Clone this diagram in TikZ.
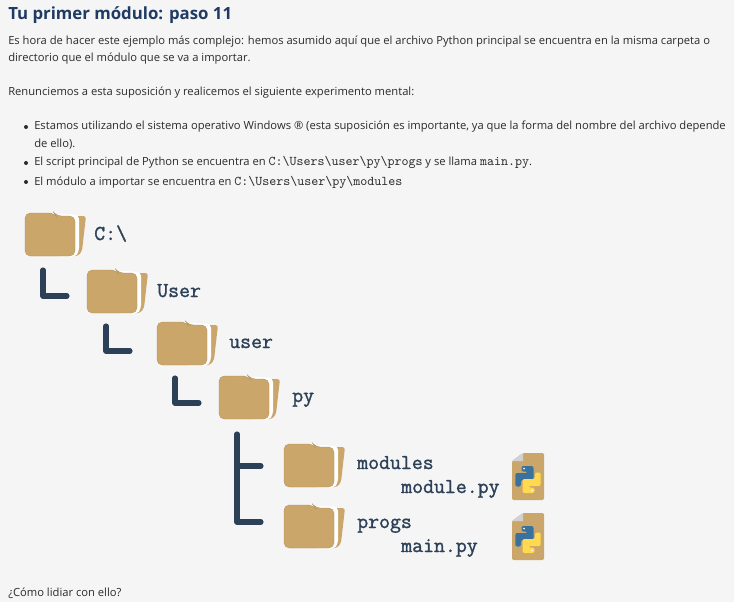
\documentclass[tikz,border=0pt]{standalone}
\usepackage{fontspec}
\setmainfont{Open Sans}
\newfontfamily\pathfont[FakeBold=1.4]{Latin Modern Mono}
\definecolor{pagebg}{HTML}{F5F5F5}
\definecolor{titleblue}{HTML}{1F3B63}
\definecolor{bodytext}{HTML}{2B2B2B}
\definecolor{slate}{HTML}{2C4058}
\definecolor{foldertan}{HTML}{CBA66A}
\definecolor{pyblue}{HTML}{3A729F}
\definecolor{pyyellow}{HTML}{FFD94F}
\newcommand{\inlinecode}[1]{{\ttfamily\fontsize{10}{10}\selectfont #1}}
\tikzset{
    titletext/.style={anchor=base west,inner sep=0pt,font=\fontsize{12.6}{16}\selectfont\bfseries,text=titleblue},
    bodyline/.style={anchor=base west,inner sep=0pt,font=\fontsize{8.4}{10}\selectfont,text=bodytext},
    bulletdot/.style={circle,fill=bodytext,inner sep=0pt,minimum size=3pt},
    pathtext/.style={anchor=base west,inner sep=0pt,font=\fontsize{15.9}{16}\selectfont\pathfont,text=slate},
    treeline/.style={draw=slate,line width=3.8pt,line cap=round,line join=round},
    pics/foldericon/.style={code={
        \fill[foldertan,rounded corners=2pt] (30,3) -- (61,3) -- (57,38) -- (53,43) -- (30,43) -- cycle;
        \fill[white,rounded corners=3pt] (30,0.5) -- (54,2) -- (54,39) -- (50,44) -- (30,44) -- cycle;
        \fill[foldertan,draw=foldertan!88!black,line width=0.3pt,rounded corners=4pt] (0,43) -- (0,0) -- (29,0)
            -- (31,3) -- (50,3) -- (50,43) -- cycle;
    }},
    pics/pyfile/.style={code={
        \fill[foldertan,rounded corners=1pt] (0,8) -- (11,0) -- (32,0) -- (32,47) -- (0,47) -- cycle;
        \fill[black!18] (0,8) -- (11,0) -- (11,8) -- cycle;
        \fill[pyblue,rounded corners=1.5pt] (9.5,13) -- (21.5,13) -- (21.5,27) -- (9,27)
            -- (9,33.5) -- (3.3,33.5) -- (3.3,20) -- (15.5,20) -- (15.5,18.5) -- (9.5,18.5) -- cycle;
        \fill[pyyellow,rounded corners=1.5pt] (22.5,40) -- (10.5,40) -- (10.5,26) -- (23,26)
            -- (23,19.5) -- (28.7,19.5) -- (28.7,33) -- (16.5,33) -- (16.5,34.5) -- (22.5,34.5) -- cycle;
        \fill[white] (12,15.6) circle (0.9);
        \fill[white] (20,37.4) circle (0.9);
    }}
}
\begin{document}
\begin{tikzpicture}[x=0.75pt,y=-0.75pt]
                \fill[pagebg] (0,0) rectangle (734,602);
                \useasboundingbox (0,0) rectangle (734,602);

                \node[titletext] (title) at (8,20) {Tu primer módulo: paso 11};
                \node[bodyline] (introa) at (8,45) {Es hora de hacer este ejemplo más complejo: hemos asumido aquí que el archivo Python principal se encuentra en la misma carpeta o};
                \node[bodyline] (introb) at (8,62) {directorio que el módulo que se va a importar.};
                \node[bodyline] (renounce) at (8,96) {Renunciemos a esta suposición y realicemos el siguiente experimento mental:};

                \node[bulletdot] (dota) at (26,127) {};
                \node[bodyline] (itema) at (34,130) {Estamos utilizando el sistema operativo Windows ® (esta suposición es importante, ya que la forma del nombre del archivo depende};
                \node[bodyline] (itemb) at (34,148) {de ello).};
                \node[bulletdot] (dotb) at (26,163) {};
                \node[bodyline] (itemc) at (34,166) {El script principal de Python se encuentra en \inlinecode{C:\textbackslash Users\textbackslash user\textbackslash py\textbackslash progs} y se llama \inlinecode{main.py}.};
                \node[bulletdot] (dotc) at (26,182) {};
                \node[bodyline] (itemd) at (34,185.5) {El módulo a importar se encuentra en \inlinecode{C:\textbackslash Users\textbackslash user\textbackslash py\textbackslash modules}};

                \pic at (25,213) {foldericon};
                \node[pathtext] (rootlabel) at (94,240) {C:\textbackslash};

                \coordinate (rootstem) at (43,270);
                \coordinate (rootend) at (67,296);
                \draw[treeline] (rootstem) |- (rootend);

                \pic at (87,270) {foldericon};
                \node[pathtext] (userdir) at (157,297) {User};

                \coordinate (userstem) at (106,326);
                \coordinate (userend) at (130,351);
                \draw[treeline] (userstem) |- (userend);

                \pic at (157,322) {foldericon};
                \node[pathtext] (homedir) at (229,348) {user};

                \coordinate (homestem) at (175,378);
                \coordinate (homeend) at (199,403);
                \draw[treeline] (homestem) |- (homeend);

                \pic at (219,376) {foldericon};
                \node[pathtext] (pydir) at (292,402) {py};

                \coordinate (pystem) at (237,434);
                \coordinate (modulesend) at (261,466);
                \coordinate (progsend) at (261,522);
                \draw[treeline] (pystem) |- (progsend);
                \draw[treeline] (pystem |- modulesend) -- (modulesend);

                \pic at (284,444) {foldericon};
                \node[pathtext] (modulesdir) at (357,469) {modules};
                \node[pathtext] (modulefile) at (401,493) {module.py};
                \pic at (512,453) {pyfile};

                \pic at (284,505) {foldericon};
                \node[pathtext] (progsdir) at (357,528) {progs};
                \node[pathtext] (mainfile) at (401,552) {main.py};
                \pic at (512,513) {pyfile};

                \node[bodyline] (closing) at (8,596) {¿Cómo lidiar con ello?};
            \end{tikzpicture}
\end{document}
